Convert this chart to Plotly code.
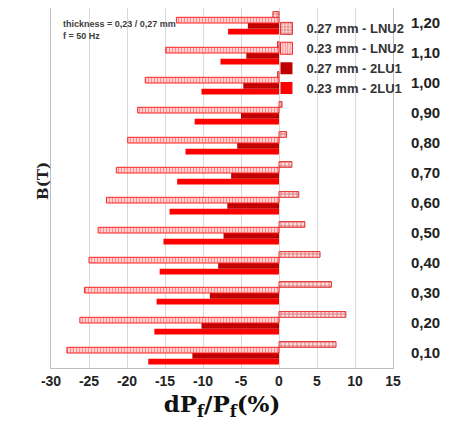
import plotly.graph_objects as go

# B(T) categories, bottom to top
b_labels = ["0,10", "0,20", "0,30", "0,40", "0,50", "0,60",
            "0,70", "0,80", "0,90", "1,00", "1,10", "1,20"]

# dPf/Pf (%) per series
lu1_023 = [-17.2, -16.4, -16.1, -15.7, -15.2, -14.4, -13.4, -12.3, -11.1, -10.2, -7.7, -6.7]
lu1_027 = [-11.4, -10.2, -9.1, -8.0, -7.3, -6.8, -6.3, -5.5, -5.0, -4.7, -4.3, -4.1]
lnu2_023 = [-27.9, -26.2, -25.6, -25.0, -23.8, -22.7, -21.4, -19.9, -18.6, -17.6, -14.9, -13.5]
lnu2_027 = [7.5, 8.8, 6.9, 5.4, 3.4, 2.6, 1.7, 1.0, 0.4, -0.2, -0.2, -0.8]

x_ticks = [-30, -25, -20, -15, -10, -5, 0, 5, 10, 15]

fig = go.Figure()

fig.add_trace(go.Bar(
    y=b_labels, x=lu1_023, orientation="h", name="<b>0.23 mm - 2LU1</b>",
    marker=dict(color="#ff0000", line=dict(width=0)),
))
fig.add_trace(go.Bar(
    y=b_labels, x=lu1_027, orientation="h", name="<b>0.27 mm - 2LU1</b>",
    marker=dict(color="#c00000", line=dict(width=0)),
))
fig.add_trace(go.Bar(
    y=b_labels, x=lnu2_023, orientation="h", name="<b>0.23 mm - LNU2</b>",
    marker=dict(color="white", line=dict(color="#ff2020", width=1),
                pattern=dict(shape="|", fgcolor="#ff3030", bgcolor="#ffe8e8",
                             size=3, solidity=0.5)),
))
fig.add_trace(go.Bar(
    y=b_labels, x=lnu2_027, orientation="h", name="<b>0.27 mm - LNU2</b>",
    marker=dict(color="white", line=dict(color="#e03030", width=1),
                pattern=dict(shape="+", fgcolor="#c00000", bgcolor="#ffe0e0",
                             size=4, solidity=0.4)),
))

# note in the top-left corner
fig.add_annotation(
    x=0.03, y=0.975, xref="paper", yref="paper", xanchor="left", yanchor="top",
    text="<b>thickness = 0,23 / 0,27 mm<br>f = 50 Hz</b>", align="left",
    showarrow=False, font=dict(size=9, color="#404040", family="Liberation Sans"),
)

# B(T) title on the left side
fig.add_annotation(
    x=-0.055, y=0.52, xref="paper", yref="paper", textangle=-90,
    text="<b>B(T)</b>", showarrow=False,
    font=dict(size=15, family="DejaVu Serif", color="#222222"),
)

# page body adds 8px, so the figure is 8px smaller than the window
fig.update_layout(
    width=443, height=432,
    margin=dict(l=43, r=58, t=0, b=72),
    barmode="group", bargap=0.24, bargroupgap=0,
    plot_bgcolor="white", paper_bgcolor="white",
    font=dict(family="Liberation Sans", color="#222222"),
    legend=dict(
        x=0.63, y=0.985, xanchor="left", yanchor="top",
        traceorder="reversed", bgcolor="rgba(0,0,0,0)",
        font=dict(size=13, color="#333333", family="Liberation Sans"),
        itemwidth=30, tracegroupgap=0,
    ),
    xaxis=dict(
        range=[-30, 15], tickvals=x_ticks, ticks="",
        ticktext=[f"<b>{v}</b>" for v in x_ticks],
        tickfont=dict(size=14, color="#222222", family="Liberation Sans"),
        showgrid=True, gridcolor="#d9d9d9", gridwidth=1,
        zeroline=False, showline=True, linecolor="#bfbfbf", mirror=True,
        title=dict(text="<b>dP<sub>f</sub>/P<sub>f</sub>(%)</b>",
                   font=dict(size=23, family="DejaVu Serif", color="#111111"),
                   standoff=8),
    ),
    yaxis=dict(
        side="right", type="category", ticks="",
        tickvals=b_labels, ticktext=[f"<b>{v}</b>" for v in b_labels],
        tickfont=dict(size=15, color="#222222", family="Liberation Sans"),
        showgrid=False, showline=True, linecolor="#bfbfbf", mirror=True,
        ticklabelstandoff=14, automargin=False,
    ),
)

fig.write_html("out.html")
